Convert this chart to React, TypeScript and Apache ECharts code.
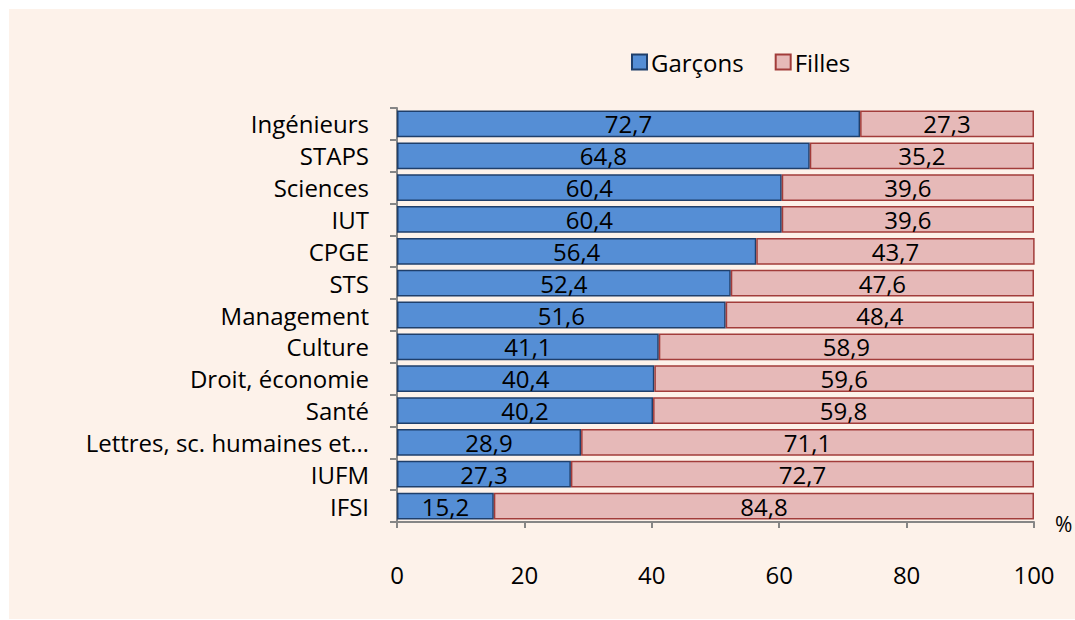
import React, { useEffect, useRef } from "react";
import * as echarts from "echarts";

const categories = [
  "Ingénieurs",
  "STAPS",
  "Sciences",
  "IUT",
  "CPGE",
  "STS",
  "Management",
  "Culture",
  "Droit, économie",
  "Santé",
  "Lettres, sc. humaines et…",
  "IUFM",
  "IFSI",
];
const garcons = [72.7, 64.8, 60.4, 60.4, 56.4, 52.4, 51.6, 41.1, 40.4, 40.2, 28.9, 27.3, 15.2];
const filles = [27.3, 35.2, 39.6, 39.6, 43.7, 47.6, 48.4, 58.9, 59.6, 59.8, 71.1, 72.7, 84.8];
const xTicks = [0, 20, 40, 60, 80, 100];

const FONT = "'Open Sans', 'Noto Sans', sans-serif";
const FS = 24;

export default function App() {
  const ref = useRef<HTMLDivElement>(null);
  useEffect(() => {
    if (!ref.current) return;
    const chart = echarts.init(ref.current, undefined, { renderer: "svg" });
    const fmt = (p: any) => String(p.value).replace(".", ",");
    chart.setOption({
      animation: false,
      backgroundColor: "#ffffff",
      textStyle: { fontFamily: FONT },
      graphic: [
        {
          type: "rect",
          z: -10,
          silent: true,
          shape: { x: 9, y: 9, width: 1066, height: 610 },
          style: { fill: "#FDF2EA" },
        },
        {
          type: "text",
          x: 1055,
          y: 513,
          style: { text: "%", fontSize: 21, fontFamily: FONT, fill: "#000" },
        },
      ],
      legend: {
        top: 45,
        left: 626,
        itemWidth: 15,
        itemHeight: 15,
        itemGap: 31,
        icon: "rect",
        textStyle: { fontSize: FS, color: "#000", fontFamily: FONT, padding: [0, 0, 0, -1] },
        data: ["Garçons", "Filles"],
      },
      grid: { left: 397, right: 41, top: 108, bottom: 98, containLabel: false },
      xAxis: {
        type: "value",
        min: 0,
        max: 100,
        interval: 20,
        splitLine: { show: false },
        axisLine: { show: true, lineStyle: { color: "#868686", width: 2 } },
        axisTick: { show: true, length: 6, lineStyle: { color: "#868686", width: 2 } },
        axisLabel: {
          margin: 40,
          fontSize: FS,
          color: "#000",
          fontFamily: FONT,
          formatter: (v: number) => (xTicks.includes(v) ? String(v) : ""),
        },
      },
      yAxis: {
        type: "category",
        inverse: true,
        data: categories,
        axisLine: { show: true, lineStyle: { color: "#868686", width: 2 } },
        axisTick: { show: true, length: 7, lineStyle: { color: "#868686", width: 2 } },
        axisLabel: { margin: 28, fontSize: FS, color: "#000", fontFamily: FONT },
      },
      series: [
        {
          name: "Garçons",
          type: "bar",
          stack: "total",
          barCategoryGap: "16%",
          data: garcons,
          itemStyle: { color: "#558ED5", borderColor: "#1F3F6B", borderWidth: 1.5 },
          label: { show: true, position: "inside", formatter: fmt, fontSize: FS, color: "#000", fontFamily: FONT },
        },
        {
          name: "Filles",
          type: "bar",
          stack: "total",
          barCategoryGap: "16%",
          data: filles,
          itemStyle: { color: "#E6B9B8", borderColor: "#A23C3A", borderWidth: 1.5 },
          label: { show: true, position: "inside", formatter: fmt, fontSize: FS, color: "#000", fontFamily: FONT },
        },
      ],
    });
    return () => chart.dispose();
  }, []);
  return <div ref={ref} style={{ width: 1075, height: 620, position: "absolute", left: 0, top: 0 }} />;
}
